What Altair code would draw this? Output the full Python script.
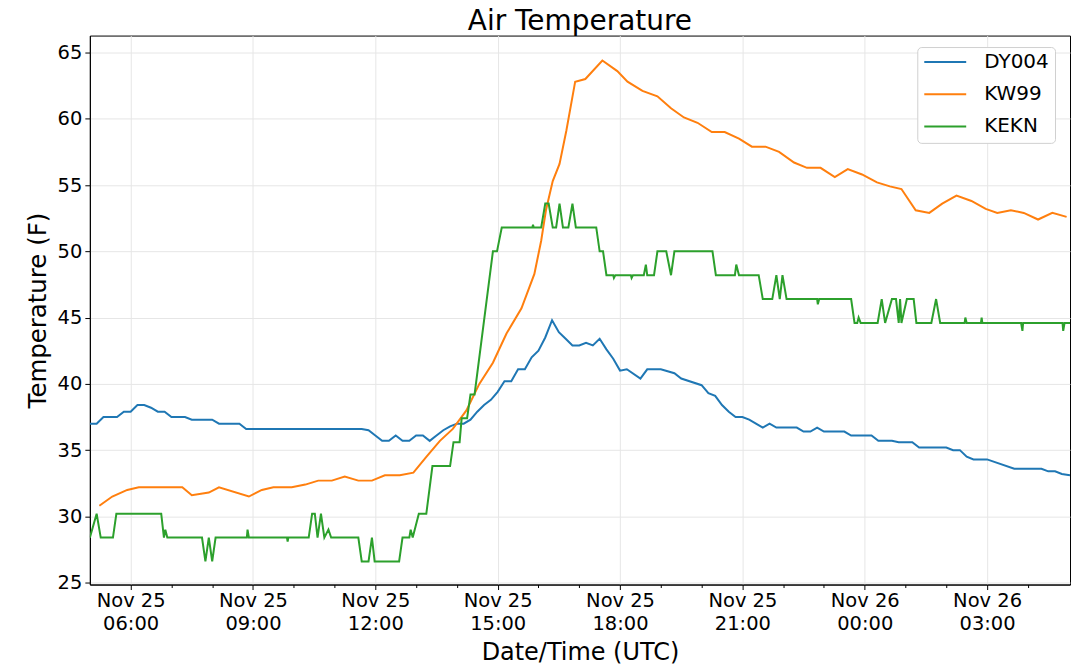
import altair as alt
import pandas as pd

# minutes after 2019-11-25 05:00 UTC, temperature in F
dy004_min = [0, 10, 20, 40, 50, 60, 70, 80, 90, 100, 110, 120, 140, 150, 180, 190, 220, 230,
             400, 410, 420, 430, 440, 450, 460, 470, 480, 490, 500, 510, 520, 530, 540, 550, 560, 570, 580, 590,
             600, 610, 620, 630, 640, 650, 660, 670, 680, 690, 700, 710, 720, 730, 740, 750, 760, 770, 780, 790,
             810, 820, 840, 860, 870, 900, 910, 920, 930, 940, 950, 960, 970, 980, 990, 1000, 1010, 1040, 1050, 1060,
             1070, 1080, 1110, 1120, 1150, 1160, 1180, 1190, 1210, 1220, 1260, 1270, 1280, 1290, 1300, 1320, 1360,
             1400, 1410, 1420, 1430, 1442]
dy004_val = [37.0, 37.0, 37.5, 37.5, 37.9, 37.9, 38.4, 38.4, 38.2, 37.9, 37.9, 37.5, 37.5, 37.3, 37.3, 37.0, 37.0, 36.6,
             36.6, 36.5, 36.1, 35.7, 35.7, 36.1, 35.7, 35.7, 36.1, 36.1, 35.7, 36.1, 36.5, 36.8, 37.0, 37.0, 37.3, 37.9, 38.4, 38.8,
             39.4, 40.2, 40.2, 41.1, 41.1, 42.0, 42.5, 43.5, 44.8, 43.9, 43.4, 42.9, 42.9, 43.1, 42.9, 43.4, 42.6, 41.9, 41.0, 41.1,
             40.4, 41.1, 41.1, 40.8, 40.4, 39.9, 39.3, 39.1, 38.4, 37.9, 37.5, 37.5, 37.3, 37.0, 36.7, 37.0, 36.7, 36.7, 36.4, 36.4,
             36.7, 36.4, 36.4, 36.1, 36.1, 35.7, 35.7, 35.6, 35.6, 35.2, 35.2, 35.0, 35.0, 34.5, 34.3, 34.3, 33.6,
             33.6, 33.4, 33.4, 33.2, 33.1]

kw99_min = [14, 33, 55, 72, 136, 150, 175, 190, 234, 253, 270, 297, 317, 336, 356, 375, 395, 415, 434, 456,
            476, 495, 515, 534, 554, 573, 593, 613, 635, 654, 664, 671, 681, 691, 701, 714, 729, 754, 776, 791,
            813, 835, 855, 874, 894, 915, 934, 955, 974, 994, 1014, 1036, 1055, 1075, 1096, 1115, 1136, 1158, 1177, 1194,
            1215, 1235, 1254, 1275, 1297, 1318, 1335, 1355, 1374, 1395, 1416, 1437]
kw99_val = [30.8, 31.5, 32.0, 32.2, 32.2, 31.6, 31.8, 32.2, 31.5, 32.0, 32.2, 32.2, 32.4, 32.7, 32.7, 33.0, 32.7, 32.7, 33.1, 33.1,
            33.3, 34.5, 35.7, 36.6, 38.0, 40.0, 41.6, 43.8, 45.7, 48.3, 50.8, 53.1, 55.3, 56.6, 59.1, 62.8, 63.0, 64.4, 63.6, 62.8,
            62.1, 61.7, 60.8, 60.1, 59.7, 59.0, 59.0, 58.5, 57.9, 57.9, 57.5, 56.7, 56.3, 56.3, 55.6, 56.2, 55.8, 55.2, 54.9, 54.7,
            53.1, 52.9, 53.6, 54.2, 53.8, 53.2, 52.9, 53.1, 52.9, 52.4, 52.9, 52.6]

kekn_min = [0, 10, 16, 34, 39, 105, 109, 111, 114, 165, 170, 175, 180, 185, 231, 232, 234, 290, 291, 292,
            322, 327, 331, 335, 340, 345, 351, 355, 395, 400, 410, 415, 419, 455, 460, 470, 472, 475, 484, 495,
            504, 530, 535, 544, 547, 555, 560, 566, 593, 599, 606, 651, 652, 653, 664, 670, 675, 681, 686, 691,
            696, 704, 710, 715, 745, 750, 755, 760, 770, 771, 773, 796, 797, 799, 815, 818, 820, 830, 835, 848,
            855, 860, 916, 921, 949, 951, 955, 984, 990, 1004, 1010, 1015, 1019, 1025, 1070, 1071, 1073, 1120, 1125, 1129,
            1131, 1134, 1159, 1165, 1170, 1180, 1186, 1190, 1192, 1194, 1202, 1212, 1216, 1238, 1245, 1251, 1287, 1288, 1290, 1311,
            1312, 1313, 1370, 1372, 1373, 1431, 1432, 1434, 1442]
kekn_val = [28.4, 30.2, 28.4, 28.4, 30.2, 30.2, 28.4, 29.0, 28.4, 28.4, 26.6, 28.4, 26.6, 28.4, 28.4, 29.0, 28.4, 28.4, 28.1, 28.4,
            28.4, 30.2, 30.2, 28.4, 30.2, 28.4, 29.0, 28.4, 28.4, 26.6, 26.6, 28.4, 26.6, 26.6, 28.4, 28.4, 29.0, 28.4, 30.2, 30.2,
            33.8, 33.8, 35.6, 35.6, 37.4, 37.4, 39.2, 39.2, 50.0, 50.0, 51.8, 51.8, 52.0, 51.8, 51.8, 53.6, 53.6, 51.8, 51.8, 53.6,
            51.8, 51.8, 53.6, 51.8, 51.8, 50.0, 50.0, 48.2, 48.2, 48.0, 48.2, 48.2, 48.0, 48.2, 48.2, 49.0, 48.2, 48.2, 50.0, 50.0,
            48.2, 50.0, 50.0, 48.2, 48.2, 49.0, 48.2, 48.2, 46.4, 46.4, 48.2, 46.4, 48.2, 46.4, 46.4, 46.0, 46.4, 46.4, 44.6, 44.6,
            45.0, 44.6, 44.6, 46.4, 44.6, 46.4, 46.4, 44.6, 46.4, 44.6, 46.4, 46.4, 44.6, 44.6, 46.4, 44.6, 44.6, 45.0, 44.6, 44.6,
            45.0, 44.6, 44.6, 44.0, 44.6, 44.6, 44.0, 44.6, 44.6]

stations = ["DY004", "KW99", "KEKN"]
colors = ["#1f77b4", "#ff7f0e", "#2ca02c"]
y_ticks = [25, 30, 35, 40, 45, 50, 55, 60, 65]


def make_df(name, mins, vals):
    t = pd.Timestamp("2019-11-25 05:00") + pd.to_timedelta(mins, unit="m")
    return pd.DataFrame({"time": t.strftime("%Y-%m-%dT%H:%M:%SZ"), "temp": vals, "station": name})


df = pd.concat([make_df("DY004", dy004_min, dy004_val),
                make_df("KW99", kw99_min, kw99_val),
                make_df("KEKN", kekn_min, kekn_val)], ignore_index=True)

hour_ticks = [alt.DateTime(year=2019, month=11, date=25, hours=h, utc=True) for h in range(6, 24)] + \
             [alt.DateTime(year=2019, month=11, date=26, hours=h, utc=True) for h in range(0, 5)]

major = "utchours(datum.value) % 3 == 0"

x_axis = alt.Axis(
    values=hour_ticks,
    title="Date/Time (UTC)",
    labelExpr=f"{major} ? [utcFormat(datum.value, '%b %d'), utcFormat(datum.value, '%H:%M')] : ''",
    labelFontSize=19.5,
    labelLineHeight=23.5,
    labelPadding=2,
    labelColor="black",
    labelOverlap=False,
    labelFlush=False,
    tickSize={"condition": {"test": major, "value": 5}, "value": 3},
    gridOpacity={"condition": {"test": major, "value": 1}, "value": 0},
    titleFontSize=24,
    titleFontWeight="normal",
    titleColor="black",
    titlePadding=7,
)

y_axis = alt.Axis(
    values=y_ticks,
    title="Temperature (F)",
    labelFontSize=19.5,
    labelColor="black",
    labelPadding=3,
    tickSize=5,
    titleFontSize=24.5,
    titleFontWeight="normal",
    titleColor="black",
    titlePadding=7,
)

chart = alt.Chart(df).mark_line(strokeWidth=2, clip=True).encode(
    x=alt.X("time:T",
            scale=alt.Scale(type="utc",
                            domain=[alt.DateTime(year=2019, month=11, date=25, hours=5, minutes=0, utc=True),
                                    alt.DateTime(year=2019, month=11, date=26, hours=5, minutes=2, utc=True)]),
            axis=x_axis),
    y=alt.Y("temp:Q", scale=alt.Scale(domain=[24.86, 66.28], nice=False, zero=False), axis=y_axis),
    color=alt.Color("station:N",
                    scale=alt.Scale(domain=stations, range=colors),
                    legend=alt.Legend(title=None, orient="none", legendX=829, legendY=11.5,
                                      symbolType="stroke", symbolSize=1764, symbolStrokeWidth=2,
                                      clipHeight=18, rowPadding=12.3, labelOffset=17,
                                      labelFontSize=20, labelColor="black", padding=6,
                                      strokeColor="#d0d0d0", fillColor="white", cornerRadius=4)),
).properties(
    width=982,
    height=550,
    title=alt.TitleParams("Air Temperature", fontSize=28, fontWeight="normal", color="black", offset=0),
    autosize=alt.AutoSizeParams(type="none"),
    padding={"left": 82, "top": 27, "right": 2, "bottom": 80},
).configure(
    font="DejaVu Sans",
).configure_view(
    stroke="black", strokeWidth=1,
).configure_axis(
    domainColor="black", tickColor="black", gridColor="#e6e6e6", gridWidth=1,
    labelFont="DejaVu Sans", titleFont="DejaVu Sans",
)

chart.save("out.html", embed_options={"renderer": "svg", "actions": False})
